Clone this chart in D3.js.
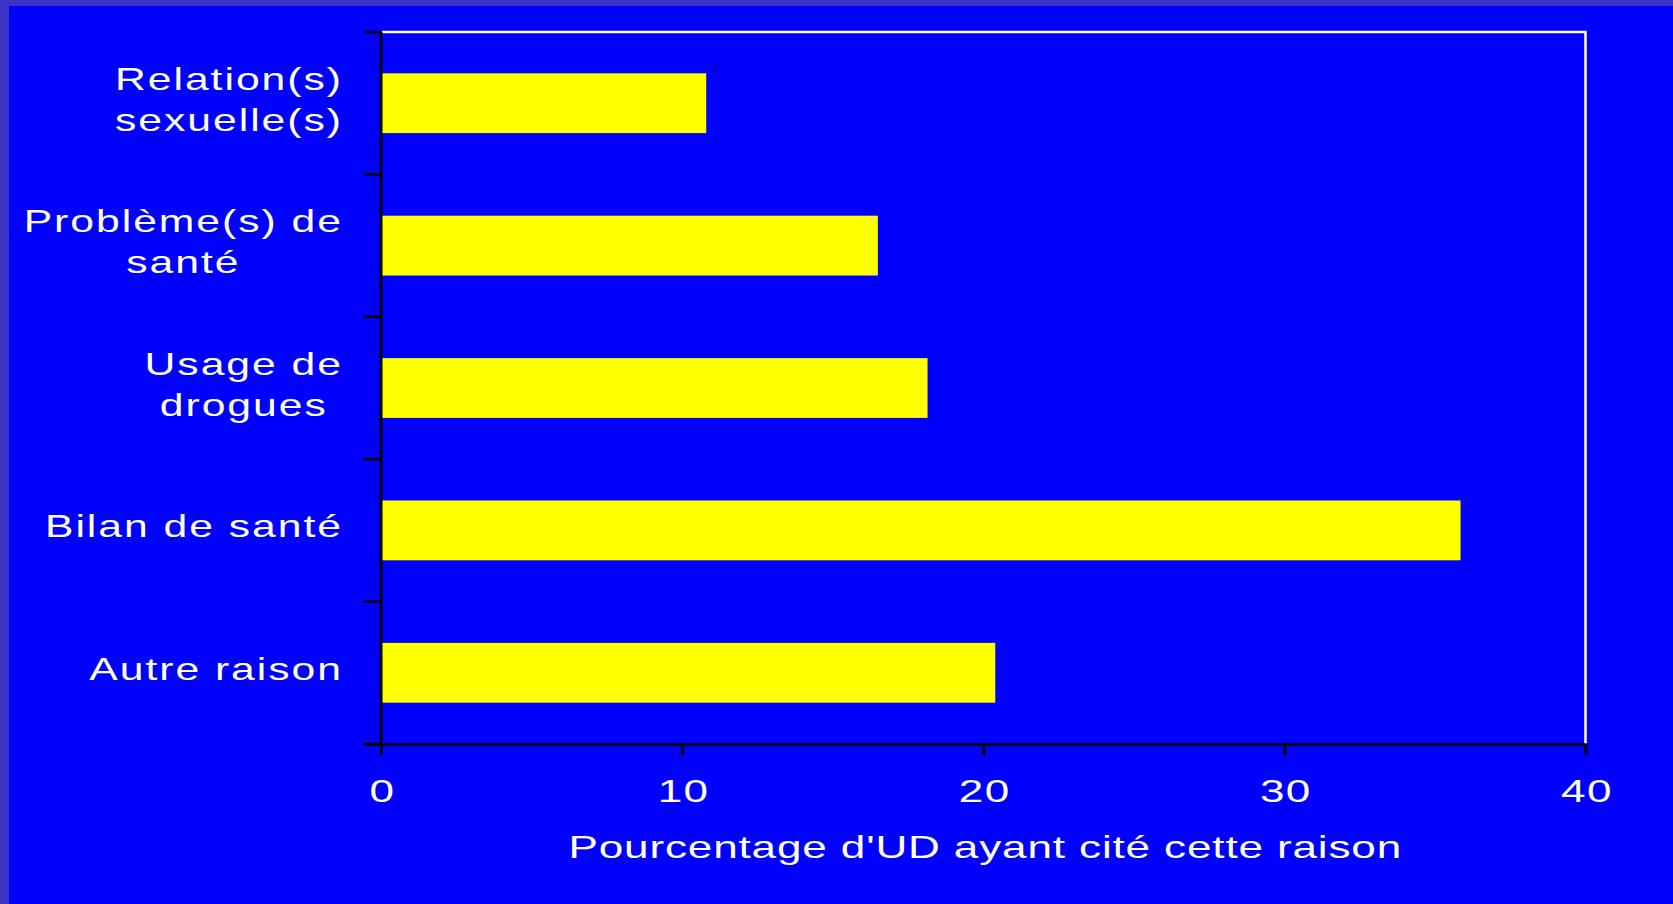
<!DOCTYPE html>
<html>
<head>
<meta charset="utf-8">
<script src="https://cdn.jsdelivr.net/npm/d3@7"></script>
<style>
  html, body { margin: 0; padding: 0; background: #0000ff; }
  svg { display: block; }
  text { font-family: "Liberation Sans", Arial, Helvetica, sans-serif; fill: #ffffff; }
</style>
</head>
<body>
<svg id="chart" width="1673" height="904"></svg>
<script>
// ---- data ----
const categories = [
  "Relation(s)\nsexuelle(s)",
  "Problème(s) de\nsanté",
  "Usage de\ndrogues",
  "Bilan de santé",
  "Autre raison"
];
const values = [10.8, 16.5, 18.15, 35.85, 20.4];
const xTicks = [0, 10, 20, 30, 40];
const xTitle = "Pourcentage d'UD ayant cité cette raison";

// ---- layout ----
const W = 1673, H = 904;
const plot = { left: 381, right: 1585.5, top: 32, bottom: 744 };
const SX = 1.4; // horizontal stretch of the original text

const svg = d3.select("#chart");

svg.append("rect").attr("x", 0).attr("y", 0).attr("width", W).attr("height", H).attr("fill", "#0000ff");
svg.append("rect").attr("x", 0).attr("y", 0).attr("width", W).attr("height", 6).attr("fill", "#3a34c6");
svg.append("rect").attr("x", 0).attr("y", 0).attr("width", 9).attr("height", H).attr("fill", "#3a34c6");

const x = d3.scaleLinear().domain([0, 40]).range([plot.left, plot.right]);
const y = d3.scaleBand().domain(categories).range([plot.top, plot.bottom])
  .paddingInner(0.58).paddingOuter(0.29);

// frame (top and right, white)
svg.append("path")
  .attr("d", `M${plot.left + 1},${plot.top} H${plot.right} V${plot.bottom}`)
  .attr("fill", "none").attr("stroke", "#ffffff").attr("stroke-width", 2.5);

// bars
svg.append("g").selectAll("rect").data(categories).join("rect")
  .attr("x", x(0) + 1)
  .attr("y", d => y(d))
  .attr("width", (d, i) => x(values[i]) - x(0) - 1)
  .attr("height", y.bandwidth())
  .attr("fill", "#ffff00");

// y axis (ticks at band boundaries)
const yAxis = svg.append("g");
yAxis.append("line")
  .attr("x1", plot.left).attr("x2", plot.left)
  .attr("y1", plot.top).attr("y2", plot.bottom + 1)
  .attr("stroke", "#000").attr("stroke-width", 3);
const bounds = d3.range(categories.length + 1).map(i => y.range()[0] + i * y.step());
yAxis.selectAll("line.tick").data(bounds).join("line").attr("class", "tick")
  .attr("x1", plot.left - 17).attr("x2", plot.left)
  .attr("y1", d => d).attr("y2", d => d)
  .attr("stroke", "#000").attr("stroke-width", 2.5);

// category labels
const labelRight = 342;
const lineH = 41;
const fsLabel = 30.5;
const lsLabel = 1.4;
categories.forEach(c => {
  const lines = c.split("\n");
  const cy = y(c) + y.bandwidth() / 2;
  const g = svg.append("g");
  const texts = lines.map((t, i) => g.append("text")
    .attr("x", 0)
    .attr("y", (i - (lines.length - 1) / 2) * lineH + 7)
    .attr("text-anchor", "middle")
    .attr("font-size", fsLabel)
    .style("letter-spacing", lsLabel + "px")
    .text(t));
  const maxW = d3.max(texts, t => t.node().getComputedTextLength()) - lsLabel;
  g.attr("transform", `translate(${labelRight - maxW * SX / 2},${cy}) scale(${SX},1)`);
});

// x axis
const xAxis = svg.append("g")
  .attr("transform", `translate(0,${plot.bottom})`)
  .call(d3.axisBottom(x).tickValues(xTicks).tickSize(11).tickSizeOuter(0).tickFormat(d3.format("d")));
xAxis.select(".domain").attr("stroke", "#000").attr("stroke-width", 2.5)
  .attr("d", `M${plot.left - 17},0.5H${plot.right + 1.5}`);
xAxis.selectAll(".tick line").attr("stroke", "#000").attr("stroke-width", 3);
xAxis.selectAll(".tick text")
  .attr("y", null).attr("dy", null)
  .attr("fill", "#fff")
  .attr("font-size", 31.5)
  .style("letter-spacing", "1px")
  .attr("font-family", "Liberation Sans, Arial, sans-serif")
  .attr("transform", `translate(1,58) scale(${SX},1)`);

// x title
svg.append("text")
  .attr("transform", `translate(${(plot.left + plot.right) / 2 + 2},858) scale(${SX},1)`)
  .attr("text-anchor", "middle")
  .attr("font-size", 31.5)
  .style("letter-spacing", "0.6px")
  .text(xTitle);
</script>
</body>
</html>
